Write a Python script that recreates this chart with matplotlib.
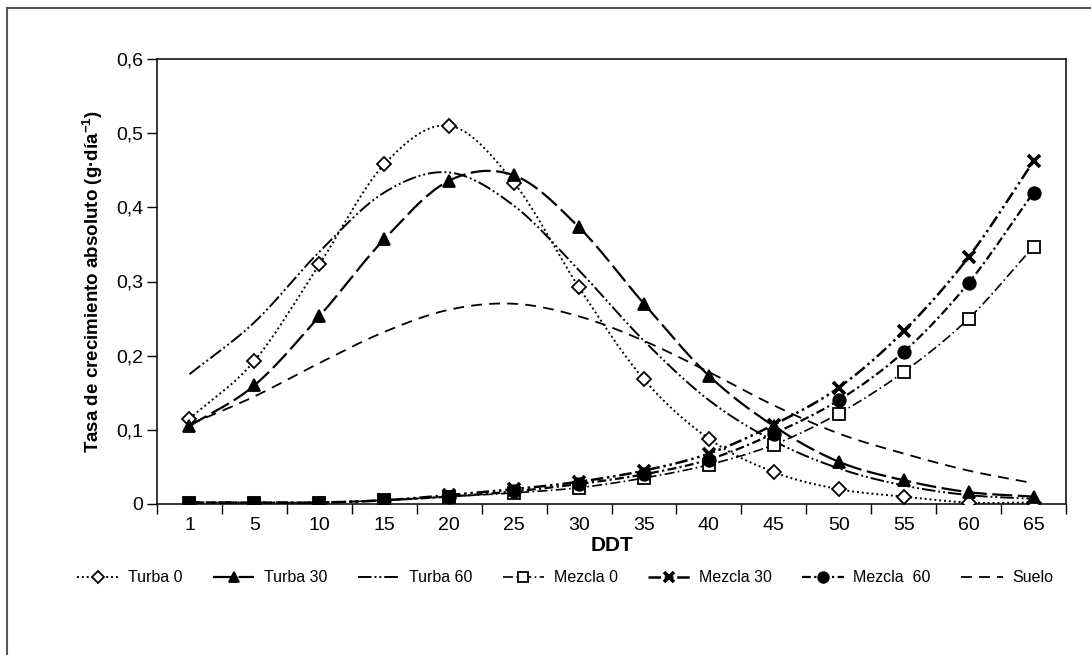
import matplotlib
matplotlib.use('Agg')
import matplotlib.pyplot as plt
import numpy as np
from matplotlib.lines import Line2D

# ── data ─────────────────────────────────────────────────────────────
ddt = ['1', '5', '10', '15', '20', '25', '30', '35', '40', '45', '50', '55', '60', '65']

turba_0 = [0.115, 0.193, 0.323, 0.458, 0.510, 0.433, 0.292, 0.168, 0.088, 0.043, 0.020, 0.010, 0.002, 0.002]
turba_30 = [0.105, 0.160, 0.253, 0.357, 0.436, 0.443, 0.373, 0.270, 0.173, 0.105, 0.057, 0.032, 0.016, 0.010]
turba_60 = [0.175, 0.245, 0.340, 0.420, 0.447, 0.402, 0.315, 0.220, 0.140, 0.085, 0.048, 0.025, 0.012, 0.007]
mezcla_0 = [0.002, 0.002, 0.002, 0.005, 0.010, 0.015, 0.022, 0.035, 0.053, 0.080, 0.122, 0.178, 0.250, 0.347]
mezcla_30 = [0.002, 0.002, 0.002, 0.005, 0.012, 0.020, 0.030, 0.045, 0.068, 0.107, 0.157, 0.233, 0.333, 0.462]
mezcla_60 = [0.002, 0.002, 0.002, 0.005, 0.010, 0.017, 0.027, 0.040, 0.060, 0.095, 0.140, 0.205, 0.298, 0.420]
suelo = [0.107, 0.145, 0.190, 0.232, 0.262, 0.270, 0.253, 0.220, 0.178, 0.133, 0.095, 0.068, 0.045, 0.028]

plt.rcParams['font.family'] = ['Liberation Sans', 'DejaVu Sans']
plt.rcParams['mathtext.fontset'] = 'custom'
plt.rcParams['mathtext.rm'] = 'Liberation Sans'
plt.rcParams['mathtext.bf'] = 'Liberation Sans:bold'


def smooth(y, n=20):
    """Excel-like smoothed line (Catmull-Rom through the points)."""
    y = np.asarray(y, float)
    x = np.arange(len(y), dtype=float)
    p = np.concatenate([[2 * y[0] - y[1]], y, [2 * y[-1] - y[-2]]])
    px = np.concatenate([[x[0] - 1], x, [x[-1] + 1]])
    xs, ys = [], []
    t = np.linspace(0, 1, n, endpoint=False)
    for i in range(1, len(p) - 2):
        for arr, out in ((px, xs), (p, ys)):
            p0, p1, p2, p3 = arr[i - 1], arr[i], arr[i + 1], arr[i + 2]
            out.extend(0.5 * ((2 * p1) + (-p0 + p2) * t
                              + (2 * p0 - 5 * p1 + 4 * p2 - p3) * t ** 2
                              + (-p0 + 3 * p1 - 3 * p2 + p3) * t ** 3))
    xs.append(x[-1]); ys.append(y[-1])
    return np.array(xs), np.array(ys)


fig = plt.figure(figsize=(10.91, 6.55), dpi=100)
ax = fig.add_axes([157 / 1091, 1 - 504 / 655, (1066 - 157) / 1091, (504 - 59) / 655])

series = [
    ('Turba 0', turba_0, (0, (1, 1.5)), 'D', 'white', 7, 1.4),
    ('Turba 30', turba_30, (0, (9, 2.5)), '^', 'black', 9, 1.6),
    ('Turba 60', turba_60, (0, (7, 1.5, 1, 1.5, 1, 1.5)), None, 'black', 0, 1.4),
    ('Mezcla 0', mezcla_0, (0, (6, 2, 1, 2)), 's', 'white', 9, 1.2),
    ('Mezcla 30', mezcla_30, (0, (5, 1.5, 1, 1.5, 1, 1.5)), 'x', 'black', 9, 1.8),
    ('Mezcla  60', mezcla_60, (0, (4, 1.5, 1, 1.5)), 'o', 'black', 9, 1.6),
    ('Suelo', suelo, (0, (6, 4)), None, 'black', 0, 1.3),
]

handles = []
xi = np.arange(len(ddt))
for name, vals, ls, mk, mfc, ms, lw in series:
    sx, sy = smooth(vals)
    ax.plot(sx, sy, color='black', linestyle=ls, linewidth=lw, zorder=2)
    mew = 2.6 if mk == 'x' else 1.3
    if mk:
        ax.plot(xi, vals, linestyle='none', marker=mk, markersize=ms,
                markerfacecolor=mfc, markeredgecolor='black', markeredgewidth=mew, zorder=3)
    handles.append(Line2D([], [], color='black', linestyle=ls, linewidth=lw,
                          marker=mk, markersize=ms * 0.85, markerfacecolor=mfc,
                          markeredgecolor='black', markeredgewidth=mew))

ax.set_xlim(-0.5, len(ddt) - 0.5)
ax.set_ylim(0, 0.6)
ax.set_xticks(xi)
ax.set_xticklabels(ddt, fontsize=14)
ax.set_xticks(np.arange(-0.5, len(ddt), 1), minor=True)
ax.tick_params(axis='x', which='major', length=0, pad=9)
ax.tick_params(axis='x', which='minor', length=7, width=1, direction='out')
ax.set_yticks(np.arange(0, 0.61, 0.1))
ax.set_yticklabels(['0', '0,1', '0,2', '0,3', '0,4', '0,5', '0,6'], fontsize=14)
ax.tick_params(axis='y', length=7, width=1, direction='out', pad=3)
for sp in ax.spines.values():
    sp.set_linewidth(1.1)

ax.set_xlabel('DDT', fontsize=15, fontweight='bold', labelpad=2)
ax.set_ylabel('Tasa de crecimiento absoluto (g·día$^{\\mathbf{-1}}$)',
              fontsize=13.5, fontweight='bold', labelpad=8)

fig.legend(handles, [s[0] for s in series], loc='center', bbox_to_anchor=(0.518, 1 - 578 / 655),
           ncol=7, frameon=False, fontsize=11.5, handlelength=2.6, handletextpad=0.6,
           columnspacing=1.9)

# outer frame (top and left only, like the cropped source)
fig.add_artist(Line2D([7 / 1091, 7 / 1091], [0, 1 - 8 / 655], transform=fig.transFigure,
                      color='#555555', linewidth=1.5))
fig.add_artist(Line2D([7 / 1091, 1], [1 - 8 / 655, 1 - 8 / 655], transform=fig.transFigure,
                      color='#555555', linewidth=1.5))

fig.savefig('out.png', dpi=100)
